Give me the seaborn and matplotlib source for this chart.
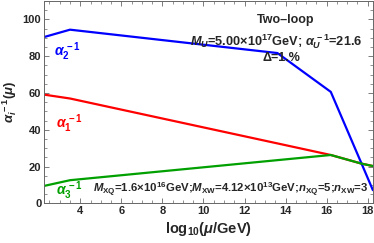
import numpy as np
import pandas as pd
import seaborn as sns
import matplotlib.pyplot as plt
from matplotlib.ticker import MultipleLocator

# running inverse couplings
log_mu = [2.24, 3.5, 13.6, 16.2, 17.7, 18.25]
inv_a1 = [59.1, 57.0, 32.6, 26.3, 21.6, 20.3]
inv_a2 = [90.4, 94.4, 81.7, 60.6, 21.6, 7.2]
inv_a3 = [9.5, 12.6, 23.5, 26.3, 21.6, 20.3]

colors = {'a1': '#ff0000', 'a2': '#0000ff', 'a3': '#00a000'}

df = pd.concat([
    pd.DataFrame({'x': log_mu, 'y': inv_a1, 's': 'a1'}),
    pd.DataFrame({'x': log_mu, 'y': inv_a2, 's': 'a2'}),
    pd.DataFrame({'x': log_mu, 'y': inv_a3, 's': 'a3'}),
])

sns.set_style('ticks')
plt.rcParams['font.family'] = ['Liberation Sans', 'DejaVu Sans']
plt.rcParams['font.weight'] = 'bold'
plt.rcParams['mathtext.fontset'] = 'custom'
plt.rcParams['mathtext.rm'] = 'Liberation Sans:bold'
plt.rcParams['mathtext.it'] = 'Liberation Sans:bold:italic'
plt.rcParams['mathtext.bf'] = 'Liberation Sans:bold'

fig = plt.figure(figsize=(3.74, 2.43), dpi=100)
ax = fig.add_axes([0.118, 0.163, 0.879, 0.833])

sns.lineplot(data=df, x='x', y='y', hue='s', palette=colors, sort=False,
             estimator=None, linewidth=1.6, legend=False, ax=ax)

ax.set_xlim(2.24, 18.25)
ax.set_ylim(0, 110)
ax.xaxis.set_major_locator(MultipleLocator(2))
ax.xaxis.set_minor_locator(MultipleLocator(0.5))
ax.yaxis.set_major_locator(MultipleLocator(20))
ax.yaxis.set_minor_locator(MultipleLocator(5))
ax.tick_params(which='both', direction='in', top=True, right=True,
               color='#666666', labelsize=8, pad=2)
ax.tick_params(which='major', length=3.5, width=0.6)
ax.tick_params(which='minor', length=2, width=0.5)
for sp in ax.spines.values():
    sp.set_color('#666666')
    sp.set_linewidth(0.7)

ax.set_xlabel(r'log$_{10}$($\mu$/GeV)', fontsize=10.5, fontweight='bold', labelpad=3)
ax.set_ylabel(r'$\alpha_i^{\,-1}(\mu)$', fontsize=9.5)
ax.yaxis.set_label_coords(-0.076, 0.5)

ax.text(3.4, 82.5, r'$\alpha_2^{\,-1}$', color='#0000ff', fontsize=10, ha='center', va='center')
ax.text(3.45, 43.5, r'$\alpha_1^{\,-1}$', color='#ff0000', fontsize=10, ha='center', va='center')
ax.text(3.45, 6.8, r'$\alpha_3^{\,-1}$', color='#00a000', fontsize=10, ha='center', va='center')

ax.text(14.0, 99.5, 'Two–loop', fontsize=9, ha='center', va='center')
ax.text(13.55, 88, r'$M_U$=5.00×10$^{17}$GeV; $\alpha_U^{\,-1}$=21.6',
        fontsize=9.2, ha='center', va='center')
ax.text(13.8, 79, 'Δ=1.%', fontsize=9, ha='center', va='center')
ax.text(4.6, 7.2, r'$M_{\rm XQ}$=1.6×10$^{16}$GeV;$M_{\rm XW}$=4.12×10$^{13}$GeV;'
        r'$n_{\rm XQ}$=5;$n_{\rm XW}$=3', fontsize=8.2, ha='left', va='center')

fig.savefig('out.png', dpi=100)
